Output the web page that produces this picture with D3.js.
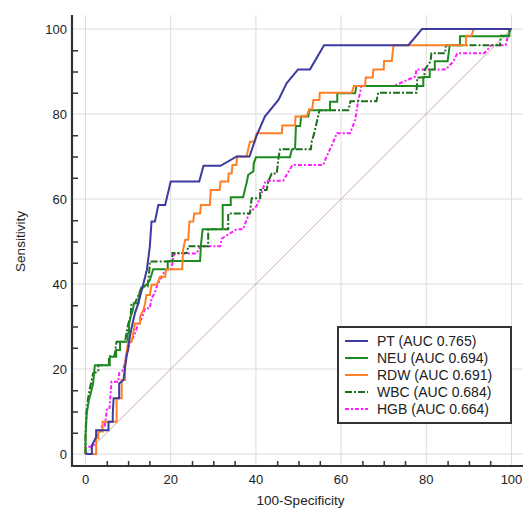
<!DOCTYPE html>
<html>
<head>
<meta charset="utf-8">
<script src="https://cdn.jsdelivr.net/npm/d3@7"></script>
<style>
  body { margin: 0; background: #fff; }
  text { font-family: Arial, "Liberation Sans", sans-serif; fill: #222; }
</style>
</head>
<body>
<div id="graph"></div>
<script>
const WIDTH = 523
const HEIGHT = 508
const PLOT_LEFT = 85.5
const PLOT_RIGHT = 511.5
const PLOT_TOP = 29
const PLOT_BOTTOM = 454
const AXIS_X = 72
const AXIS_Y = 466

// series names and AUCs, in legend order
const NAMES = ['PT', 'NEU', 'RDW', 'WBC', 'HGB']
const AUCS = ['0.765', '0.694', '0.691', '0.684', '0.664']
const MAJOR_TICKS = [0, 20, 40, 60, 80, 100]

// ROC points, [100-Specificity, Sensitivity]
const PT = [[0,0],[1.5,0],[1.5,2],[2.5,4],[2.5,5.6],[5.4,5.6],[5.4,7.6],[6.4,7.6],[6.4,9.6],[6.6,13.1],[7.9,13.1],[7.9,16.6],[8.9,17.4],[9.3,20.5],[9.7,23.3],[10,24.5],[10.4,27.6],[10.8,29.6],[11.6,33.1],[12.4,35.5],[13.2,38.6],[14,41.7],[14.4,43.3],[15.1,48.8],[15.5,54.7],[16.3,54.7],[17.1,58.6],[18.7,58.6],[20,64.1],[26.7,64.1],[27.7,67.8],[31.7,67.8],[35.5,70],[38.5,70],[40.2,75],[42.1,79.4],[45.3,83.3],[47.2,87.2],[49.9,90.5],[52.7,90.5],[56,96.2],[75.8,96.2],[79,100],[100,100]]
const NEU = [[0,0],[0,4],[0.3,9.6],[0.8,12.7],[1.3,14.5],[1.8,16.7],[2,19],[2.2,20.9],[5.7,20.9],[5.7,22.9],[7.2,22.9],[7.2,24.5],[8.1,24.5],[8.1,26.4],[9.9,26.4],[9.9,28.4],[10.2,28.4],[10.2,30.4],[10.6,32.3],[11.1,33.8],[11.4,35.5],[12.4,35.5],[12.6,37.6],[13.6,39.4],[14.5,40],[15.1,40.9],[15.9,43.5],[19.3,43.5],[19.3,45.4],[26.9,45.4],[27.1,49.2],[27.5,52.9],[32.2,52.9],[32.2,58.6],[34.1,58.6],[34.1,60.4],[37,60.4],[37.4,62.1],[37.8,63.7],[38.2,65.7],[39.4,66.5],[39.5,68.4],[40,69.8],[48,69.8],[48.4,71.5],[49.2,72],[49.4,77.2],[50.4,77.2],[50.6,79.4],[52.3,79.4],[52.5,80.9],[57.4,80.9],[57.4,82.9],[59.1,82.9],[59.1,84.9],[63.3,84.9],[63.6,86.6],[79.3,86.6],[79.3,88.7],[80.8,88.7],[80.8,90.5],[82,90.5],[82,92.4],[85,92.4],[85.5,96.2],[87.9,96.2],[87.9,98.3],[99.4,98.3],[99.6,100],[100,100]]
const RDW = [[0,0],[2.5,0],[2.5,3.7],[3,3.7],[3,5.3],[4,5.3],[4,7.6],[7.3,7.6],[7.3,13.1],[8.5,13.1],[8.5,17.4],[9.3,17.4],[9.3,21.4],[10,26.4],[10.8,26.4],[11.2,28.4],[11.6,30.7],[12.8,30.7],[12.8,32.3],[13.6,33.9],[14,35.5],[14.3,37.4],[15.1,37.4],[15.5,39.8],[16.7,39.8],[17.5,41.7],[18.7,41.7],[18.9,43.5],[22.7,43.5],[22.9,48],[23.4,50.4],[24.1,50.4],[24.4,54.7],[25.3,54.7],[25.5,56.6],[26.9,56.6],[27.1,58.6],[29.2,58.6],[29.4,62.1],[31.5,62.1],[31.7,64.1],[33.5,64.1],[33.6,66],[34.3,66],[34.5,68],[35.4,68],[35.6,70],[37.8,70],[38.6,73.5],[39.6,73.5],[40.2,75.5],[46.1,75.5],[46.2,77.3],[49.2,77.3],[49.3,79.4],[51.9,79.4],[52.5,81.1],[53.2,81.1],[53.5,83.3],[54.9,83.3],[55,85],[62.5,85],[63,86.6],[65.6,86.6],[65.8,88.6],[67.4,88.6],[67.6,90.5],[70,90.5],[70.1,92.5],[71.9,92.5],[72.3,96.2],[89.3,96.2],[89.3,98.4],[90.6,98.4],[91.1,100],[100,100]]
const WBC = [[0,0],[0,5],[0.2,9.6],[0.6,13],[1.1,15.8],[1.8,19],[3,19.4],[3,20.9],[5.5,20.9],[5.5,23],[6.8,23],[7,24.5],[7.3,26.4],[9.3,26.4],[9.6,28.4],[10,30.4],[10.6,32.5],[10.8,35.5],[11.6,35.5],[12.5,37.5],[13.2,39.4],[14.6,39.4],[14.8,41.5],[15,43.3],[15.1,45.3],[20.4,45.3],[20.4,47.3],[23.8,47.3],[24.1,48.9],[28.8,48.9],[28.8,52.9],[33.5,52.9],[33.5,56.6],[38.6,56.6],[39,60.2],[41,60.2],[41,62.1],[42.5,62.1],[42.9,64.1],[43.7,66],[44.9,66],[45.3,69.7],[45.7,71.7],[52.9,71.7],[53.1,73.5],[53.7,75.5],[54.5,79],[54.9,80.9],[61.7,80.9],[62.2,83],[68.3,83],[68.7,85],[77.7,85],[77.9,88.6],[79.5,88.6],[79.7,90.5],[81,92.4],[81.2,94.3],[84.4,94.3],[84.6,96.2],[97.3,96.2],[97.5,98.4],[99.5,98.4],[99.6,100],[100,100]]
const HGB = [[0,0],[0,1.7],[1.8,1.7],[2.5,4],[3.8,6.4],[4.5,6.4],[5,10.4],[5.6,10.4],[6.1,17],[7.7,17],[7.9,19],[8.9,19.8],[9.5,23],[10,24.9],[10.4,26],[11.5,28],[12.4,30.7],[13.2,31.9],[14,34.3],[15.1,34.3],[15.5,36.6],[16.3,38],[16.7,39.4],[17.5,40.9],[18.3,42.5],[19.1,43.5],[20.2,43.5],[20.6,46.4],[21,47.2],[26.1,47.2],[26.9,48.9],[31.6,48.9],[32,50.7],[35.5,52.9],[37,52.9],[38.4,56.6],[40.2,58.4],[41.2,61],[42.3,64.3],[46.4,64.3],[48.6,68],[55.8,68],[56.6,70],[58,73],[59,75.5],[62.1,75.5],[63.3,78.6],[64,83],[64.8,86.6],[72.3,86.6],[75.5,88],[77.4,88.8],[77.7,90.5],[84.6,90.5],[86.3,92.3],[87.3,94.3],[93.6,94.3],[95.3,96.2],[98.6,96.2],[99.2,98.4],[99.6,100],[100,100]]

const SERIES = [PT, NEU, RDW, WBC, HGB]
const COLORS = ['#3b3ba0', '#1f8a1f', '#ff7f27', '#1c6e1c', '#ff1aff']
const DASHES = [null, null, null, '7,2,2,2', '4,2,2,2']

const main = _ => {

    const x = d3.scaleLinear().domain([0, 100]).range([PLOT_LEFT, PLOT_RIGHT])
    const y = d3.scaleLinear().domain([0, 100]).range([PLOT_BOTTOM, PLOT_TOP])
    const minorTicks = d3.range(0, 101, 5).filter(t => t % 20)

    const svg = d3.select('#graph')
        .append('svg')
        .attr('width', WIDTH)
        .attr('height', HEIGHT)

    // grid
    svg.append('g')
        .selectAll('line')
        .data(MAJOR_TICKS)
        .enter()
        .append('line')
        .attr('x1', d => x(d)).attr('x2', d => x(d))
        .attr('y1', 15).attr('y2', AXIS_Y)
        .attr('stroke', '#dcdcdc')
    svg.append('g')
        .selectAll('line')
        .data(MAJOR_TICKS)
        .enter()
        .append('line')
        .attr('y1', d => y(d)).attr('y2', d => y(d))
        .attr('x1', AXIS_X).attr('x2', WIDTH)
        .attr('stroke', '#dcdcdc')

    // axes, ticks point inwards
    const xAxis = d3.axisTop(d3.scaleLinear().domain([0, 100]).range([PLOT_LEFT, PLOT_RIGHT]))
        .tickValues(MAJOR_TICKS).tickSizeInner(11).tickSizeOuter(0).tickFormat('')
    const xMinor = d3.axisTop(x).tickValues(minorTicks).tickSize(5).tickFormat('')
    const yAxis = d3.axisRight(y).tickValues(MAJOR_TICKS).tickSize(13).tickFormat('')
    const yMinor = d3.axisRight(y).tickValues(minorTicks).tickSize(6).tickFormat('')

    const gx = svg.append('g').attr('transform', `translate(0, ${AXIS_Y})`)
    gx.call(xAxis)
    gx.call(xMinor)
    const gy = svg.append('g').attr('transform', `translate(${AXIS_X}, 0)`)
    gy.call(yAxis)
    gy.call(yMinor)
    svg.selectAll('.domain').remove()
    svg.selectAll('.tick line').attr('stroke', '#333').attr('stroke-width', 1.5)

    svg.append('line')
        .attr('x1', AXIS_X).attr('x2', WIDTH)
        .attr('y1', AXIS_Y).attr('y2', AXIS_Y)
        .attr('stroke', '#333').attr('stroke-width', 2.2)
    svg.append('line')
        .attr('x1', AXIS_X).attr('x2', AXIS_X)
        .attr('y1', 15).attr('y2', AXIS_Y + 1)
        .attr('stroke', '#333').attr('stroke-width', 2.2)

    svg.append('g')
        .selectAll('text')
        .data(MAJOR_TICKS)
        .enter()
        .append('text')
        .attr('x', d => x(d))
        .attr('y', 483.5)
        .attr('text-anchor', 'middle')
        .attr('font-size', 13)
        .text(d => d)
    svg.append('g')
        .selectAll('text')
        .data(MAJOR_TICKS)
        .enter()
        .append('text')
        .attr('x', 67)
        .attr('y', d => y(d) + 4.7)
        .attr('text-anchor', 'end')
        .attr('font-size', 13)
        .text(d => d)

    svg.append('text')
        .attr('x', x(50) + 2)
        .attr('y', 505)
        .attr('text-anchor', 'middle')
        .attr('font-size', 13.5)
        .text('100-Specificity')
    svg.append('text')
        .attr('transform', `translate(25, ${y(50)}) rotate(-90)`)
        .attr('text-anchor', 'middle')
        .attr('font-size', 13.5)
        .text('Sensitivity')

    // reference diagonal
    svg.append('line')
        .attr('x1', x(0)).attr('y1', y(0))
        .attr('x2', x(100)).attr('y2', y(100))
        .attr('stroke', '#d2a6a6').attr('stroke-width', 1)

    const line = d3.line().x(d => x(d[0])).y(d => y(d[1]))

    const order = [4, 3, 1, 2, 0]
    svg.append('g')
        .selectAll('path')
        .data(order)
        .enter()
        .append('path')
        .attr('d', i => line(SERIES[i]))
        .attr('fill', 'none')
        .attr('stroke', i => COLORS[i])
        .attr('stroke-width', 2)
        .attr('stroke-dasharray', i => DASHES[i])

    // legend
    const legend = svg.append('g').attr('transform', 'translate(338, 327)')
    legend.append('rect')
        .attr('width', 173).attr('height', 96)
        .attr('fill', '#fff').attr('stroke', '#333').attr('stroke-width', 2)

    const rows = legend.selectAll('g.row')
        .data(NAMES)
        .enter()
        .append('g')
        .attr('class', 'row')
        .attr('transform', (d, i) => `translate(0, ${14 + i * 17})`)
    rows.append('line')
        .attr('x1', 7).attr('x2', 30)
        .attr('stroke', (d, i) => COLORS[i])
        .attr('stroke-width', 2)
        .attr('stroke-dasharray', (d, i) => DASHES[i])
    rows.append('text')
        .attr('x', 39)
        .attr('y', 5)
        .attr('font-size', 14)
        .text((d, i) => `${d} (AUC ${AUCS[i]})`)
}

document.addEventListener('DOMContentLoaded', main)
</script>
</body>
</html>
